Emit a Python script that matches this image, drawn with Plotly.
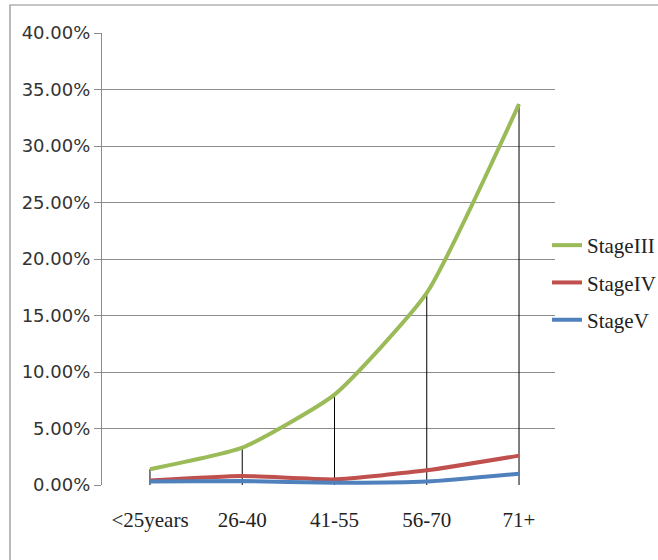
import plotly.graph_objects as go

# Age groups and share of patients per CKD stage (percent)
age_groups = ["<25years", "26-40", "41-55", "56-70", "71+"]
stage_iii = [1.4, 3.3, 8.0, 17.0, 33.7]
stage_iv = [0.4, 0.8, 0.5, 1.3, 2.6]
stage_v = [0.3, 0.35, 0.2, 0.3, 1.0]

series = [
    ("StageIII", stage_iii, "#9BBB59"),
    ("StageIV", stage_iv, "#C0504D"),
    ("StageV", stage_v, "#4F81BD"),
]

W, H = 658, 560
ML, MR, MT, MB = 102, 103, 33, 75
plot_w = W - ML - MR
plot_h = H - MT - MB

fig = go.Figure()

# Drop lines from the highest value of each group down to the axis
drop_x, drop_y = [], []
for i, g in enumerate(age_groups):
    top = max(stage_iii[i], stage_iv[i], stage_v[i]) / 100
    drop_x += [g, g, None]
    drop_y += [top, 0, None]
fig.add_trace(go.Scatter(
    x=drop_x, y=drop_y, mode="lines",
    line=dict(color="#000000", width=1),
    showlegend=False, hoverinfo="skip",
))

for k, (name, vals, color) in enumerate(series):
    fig.add_trace(go.Scatter(
        x=age_groups, y=[v / 100 for v in vals], name=name, mode="lines",
        line=dict(color=color, width=4, shape="spline", smoothing=0.5),
        legendgroup=name,
    ))

# Outer chart frame
fig.add_shape(
    type="rect", xref="paper", yref="paper",
    x0=(10 - ML) / plot_w, x1=(W + 5 - ML) / plot_w,
    y0=-(H + 5 - (MT + plot_h)) / plot_h, y1=(MT + plot_h - 5) / plot_h,
    line=dict(color="#8C8C8C", width=1.2), layer="below",
)

fig.update_layout(
    width=W, height=H,
    margin=dict(l=ML, r=MR, t=MT, b=MB, pad=0, autoexpand=False),
    paper_bgcolor="white", plot_bgcolor="white",
    showlegend=True,
    legend=dict(
        x=(547 - ML) / plot_w, y=(MT + plot_h - 225) / plot_h,
        xanchor="left", yanchor="top",
        font=dict(family="Liberation Serif", size=21, color="#222222"),
        tracegroupgap=7, itemwidth=30, bgcolor="rgba(0,0,0,0)",
    ),
    xaxis=dict(
        type="category", range=[-0.52, 4.39],
        showgrid=False, zeroline=False, showline=False,
        ticks="", ticklabelstandoff=20,
        tickfont=dict(family="Liberation Serif", size=21, color="#222222"),
    ),
    yaxis=dict(
        range=[0, 0.4], dtick=0.05, tickformat=".2%",
        showgrid=True, gridcolor="#8C8C8C", gridwidth=1.2,
        zeroline=False, showline=True, linecolor="#8C8C8C", linewidth=1.2,
        ticks="outside", ticklen=7, tickcolor="#8C8C8C", tickwidth=1.2,
        tickfont=dict(family="DejaVu Sans", size=18, color="#333333"),
    ),
)

fig.write_html("out.html")
